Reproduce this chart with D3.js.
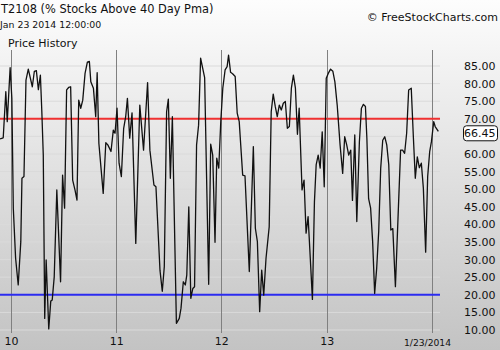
<!DOCTYPE html>
<html>
<head>
<meta charset="utf-8">
<script src="https://cdn.jsdelivr.net/npm/d3@7"></script>
<style>
  html, body { margin: 0; padding: 0; }
  svg { display: block; font-family: "DejaVu Sans", sans-serif; }
</style>
</head>
<body>
<svg id="chart" width="500" height="350"></svg>
<script>
// T2108 readings (date, % of stocks above their 40 day moving average)
const dates = [
  "2009-11-24","2009-12-05","2009-12-14","2009-12-19","2009-12-29","2010-01-04","2010-01-09","2010-01-17",
  "2010-01-26","2010-02-04","2010-02-08","2010-02-15","2010-02-22","2010-03-02","2010-03-16","2010-03-23",
  "2010-03-30","2010-04-06","2010-04-13","2010-04-18","2010-04-23","2010-04-28","2010-05-03","2010-05-12",
  "2010-05-19","2010-05-24","2010-05-31","2010-06-09","2010-06-22","2010-06-29","2010-07-06","2010-07-13",
  "2010-07-20","2010-07-27","2010-08-03","2010-08-11","2010-08-18","2010-08-24","2010-08-31","2010-09-07",
  "2010-09-15","2010-09-23","2010-09-30","2010-10-05","2010-10-14","2010-10-22","2010-10-27","2010-11-02",
  "2010-11-17","2010-11-26","2010-12-03","2010-12-14","2010-12-22","2010-12-28","2011-01-04","2011-01-11",
  "2011-01-19","2011-01-27","2011-02-03","2011-02-09","2011-02-17","2011-02-25","2011-03-10","2011-03-24",
  "2011-04-06","2011-04-20","2011-04-28","2011-05-12","2011-05-19","2011-06-02","2011-06-10","2011-06-17",
  "2011-06-25","2011-07-01","2011-07-08","2011-07-15","2011-07-24","2011-07-29","2011-08-08","2011-08-14",
  "2011-08-22","2011-08-29","2011-09-03","2011-09-10","2011-09-17","2011-09-24","2011-09-30","2011-10-07",
  "2011-10-14","2011-10-21","2011-11-04","2011-11-18","2011-11-25","2011-12-02","2011-12-10","2011-12-16",
  "2011-12-23","2011-12-30","2012-01-06","2012-01-14","2012-01-21","2012-01-26","2012-02-02","2012-02-09",
  "2012-02-18","2012-02-25","2012-03-03","2012-03-15","2012-03-23","2012-04-07","2012-04-21","2012-04-28",
  "2012-05-05","2012-05-13","2012-05-20","2012-05-27","2012-06-04","2012-06-15","2012-06-22","2012-06-29",
  "2012-07-06","2012-07-13","2012-07-20","2012-07-27","2012-08-03","2012-08-10","2012-08-17","2012-08-24",
  "2012-08-31","2012-09-07","2012-09-14","2012-09-21","2012-09-27","2012-10-07","2012-10-14","2012-10-21",
  "2012-10-28","2012-11-04","2012-11-12","2012-11-19","2012-11-25","2012-12-02","2012-12-09","2012-12-16",
  "2012-12-23","2012-12-30","2013-01-06","2013-01-14","2013-01-22","2013-01-29","2013-02-06","2013-02-16",
  "2013-02-25","2013-03-04","2013-03-11","2013-03-18","2013-03-25","2013-03-31","2013-04-08","2013-04-15",
  "2013-04-24","2013-05-01","2013-05-08","2013-05-15","2013-05-20","2013-05-26","2013-06-02","2013-06-09",
  "2013-06-16","2013-06-23","2013-06-30","2013-07-07","2013-07-14","2013-07-21","2013-07-28","2013-08-04",
  "2013-08-11","2013-08-18","2013-08-27","2013-09-05","2013-09-14","2013-09-21","2013-09-28","2013-10-05",
  "2013-10-12","2013-10-21","2013-10-28","2013-11-04","2013-11-11","2013-11-18","2013-11-25","2013-12-02",
  "2013-12-10","2013-12-17","2013-12-24","2013-12-30","2014-01-07","2014-01-12","2014-01-23"
];
const values = [
  64.3, 64.6, 77.7, 69.2, 84.5, 75.8, 44.6, 30.4,
  22.8, 35.1, 53.1, 53.6, 81.0, 84.1, 79.1, 83.5,
  83.7, 78.3, 82.4, 72.0, 59.7, 13.3, 29.9, 10.3,
  18.2, 18.5, 25.1, 49.8, 23.7, 54.0, 44.6, 78.2,
  78.9, 79.1, 52.6, 49.8, 46.9, 75.3, 73.0, 75.3,
  82.9, 86.1, 86.3, 80.5, 78.7, 70.6, 83.1, 63.0,
  48.8, 63.2, 62.6, 60.7, 66.8, 65.9, 73.0, 57.4,
  53.6, 67.3, 70.6, 75.8, 64.5, 71.7, 34.6, 73.9,
  61.1, 80.3, 61.1, 51.2, 50.7, 27.0, 21.0, 28.0,
  72.0, 75.6, 53.1, 70.6, 32.7, 11.9, 13.3, 16.2,
  23.7, 22.8, 25.6, 45.0, 19.0, 21.8, 22.3, 62.6,
  68.2, 87.2, 81.7, 23.0, 62.8, 59.7, 34.9, 58.8,
  56.0, 69.2, 78.7, 83.9, 84.8, 88.1, 83.2, 82.8,
  82.0, 71.6, 69.2, 54.0, 53.8, 26.6, 62.1, 38.9,
  35.1, 15.2, 27.0, 19.9, 30.4, 39.3, 72.0, 77.0,
  73.5, 70.6, 73.9, 72.5, 74.4, 74.9, 67.3, 67.8,
  78.7, 82.4, 78.7, 65.6, 73.0, 49.8, 52.6, 37.5,
  42.2, 31.3, 18.7, 46.4, 56.9, 59.7, 56.0, 66.3,
  50.7, 81.5, 82.9, 84.1, 83.5, 80.5, 73.9, 62.6,
  54.5, 64.9, 62.6, 59.7, 61.1, 46.8, 65.4, 40.8,
  63.5, 73.0, 74.1, 73.5, 64.5, 47.3, 44.6, 35.1,
  20.4, 27.5, 37.9, 56.0, 63.9, 64.9, 62.6, 56.9,
  38.4, 38.8, 22.3, 41.7, 61.1, 61.1, 60.2, 65.9,
  78.2, 78.7, 65.4, 53.1, 59.2, 56.1, 57.4, 50.3,
  32.1, 53.6, 60.7, 63.5, 69.2, 67.8, 66.45
];

const xTickDates = ["2010-01-01", "2011-01-01", "2012-01-01", "2013-01-01", "2014-01-01"];
const xTickLabels = ["10", "11", "12", "13", "1/23/2014"];
const yTicks = [10, 15, 20, 25, 30, 35, 40, 45, 50, 55, 60, 65, 70, 75, 80, 85];
const levels = [70, 20];
const levelColors = ["#f03030", "#2b2bf0"];

const parse = d3.timeParse("%Y-%m-%d");
const data = dates.map((d, i) => ({ date: parse(d), value: values[i] }));
const tickDates = xTickDates.map(parse);

const svg = d3.select("#chart");
const width = +svg.attr("width");
const height = +svg.attr("height");

const plot = { left: 0, right: 440, top: 50, bottom: 333 };

// background gradient
const defs = svg.append("defs");
const grad = defs.append("linearGradient")
  .attr("id", "bg")
  .attr("x1", 0).attr("y1", 0).attr("x2", 0).attr("y2", 1);
grad.append("stop").attr("offset", "0%").attr("stop-color", "#fdfdfd");
grad.append("stop").attr("offset", "100%").attr("stop-color", "#c3c3c3");

defs.append("clipPath").attr("id", "plot-clip")
  .append("rect")
  .attr("x", plot.left).attr("y", plot.top)
  .attr("width", plot.right - plot.left).attr("height", plot.bottom - plot.top);

svg.append("rect")
  .attr("width", width).attr("height", height)
  .attr("fill", "url(#bg)");

const x = d3.scaleTime()
  .domain([tickDates[0], tickDates[tickDates.length - 1]])
  .range([11, 432]);

const y = d3.scaleLinear()
  .domain([10, 85])
  .range([330, 66]);

// horizontal grid
svg.append("g")
  .selectAll("line")
  .data(yTicks)
  .enter()
  .append("line")
  .attr("x1", plot.left).attr("x2", plot.right)
  .attr("y1", d => y(d)).attr("y2", d => y(d))
  .attr("stroke", "#dadada")
  .attr("stroke-width", 1);

// vertical grid
svg.append("g")
  .selectAll("line")
  .data(tickDates)
  .enter()
  .append("line")
  .attr("x1", d => Math.round(x(d)) + 0.5)
  .attr("x2", d => Math.round(x(d)) + 0.5)
  .attr("y1", plot.top).attr("y2", plot.bottom)
  .attr("stroke", "#808080")
  .attr("stroke-width", 1);

// threshold lines
svg.append("g")
  .selectAll("line")
  .data(levels)
  .enter()
  .append("line")
  .attr("x1", plot.left).attr("x2", plot.right)
  .attr("y1", d => y(d)).attr("y2", d => y(d))
  .attr("stroke", (d, i) => levelColors[i])
  .attr("stroke-width", 2);

// price line
const line = d3.line()
  .x(d => x(d.date))
  .y(d => y(d.value));

svg.append("path")
  .datum(data)
  .attr("clip-path", "url(#plot-clip)")
  .attr("d", line)
  .attr("fill", "none")
  .attr("stroke", "#111")
  .attr("stroke-width", 1.3)
  .attr("stroke-linejoin", "round");

// right axis labels (the one hidden behind the last-value box is skipped)
const last = data[data.length - 1];
svg.append("g")
  .selectAll("text")
  .data(yTicks.filter(d => Math.abs(y(d) - y(last.value)) > 8))
  .enter()
  .append("text")
  .attr("x", 495.5)
  .attr("y", d => y(d) + 4)
  .attr("text-anchor", "end")
  .attr("font-size", "11px")
  .attr("fill", "#111")
  .text(d => d.toFixed(2));

// last value box
svg.append("rect")
  .attr("x", 463.5)
  .attr("y", y(last.value) - 5.5)
  .attr("width", 34)
  .attr("height", 15)
  .attr("rx", 3)
  .attr("fill", "#fff")
  .attr("stroke", "#111")
  .attr("stroke-width", 1);
svg.append("text")
  .attr("x", 495.5)
  .attr("y", y(last.value) + 6)
  .attr("text-anchor", "end")
  .attr("font-size", "11px")
  .attr("fill", "#111")
  .text(last.value.toFixed(2));

// bottom axis
const xAxis = d3.axisBottom(x)
  .tickValues(tickDates)
  .tickSize(0)
  .tickPadding(0)
  .tickFormat((d, i) => xTickLabels[i]);

const xAxisG = svg.append("g")
  .attr("transform", "translate(0,337)")
  .call(xAxis);
xAxisG.select(".domain").remove();
xAxisG.selectAll("text")
  .attr("font-family", "DejaVu Sans, sans-serif")
  .attr("font-size", "11px")
  .attr("fill", "#111")
  .attr("dy", "0.75em");
xAxisG.selectAll(".tick").filter((d, i) => i === xTickLabels.length - 1)
  .select("text")
  .attr("font-size", "9.2px")
  .attr("dx", -5)
  .attr("dy", "1em");

// titles
svg.append("text")
  .attr("x", 1).attr("y", 13)
  .attr("font-size", "11.4px")
  .attr("fill", "#111")
  .text("T2108 (% Stocks Above 40 Day Pma)");

svg.append("text")
  .attr("x", 0).attr("y", 27.5)
  .attr("font-size", "9.4px")
  .attr("fill", "#111")
  .text("Jan 23 2014 12:00:00");

svg.append("text")
  .attr("x", 8).attr("y", 46.5)
  .attr("font-size", "11px")
  .attr("fill", "#111")
  .text("Price History");

svg.append("text")
  .attr("x", 498).attr("y", 20.5)
  .attr("text-anchor", "end")
  .attr("font-size", "11px")
  .attr("fill", "#111")
  .text("© FreeStockCharts.com");
</script>
</body>
</html>
